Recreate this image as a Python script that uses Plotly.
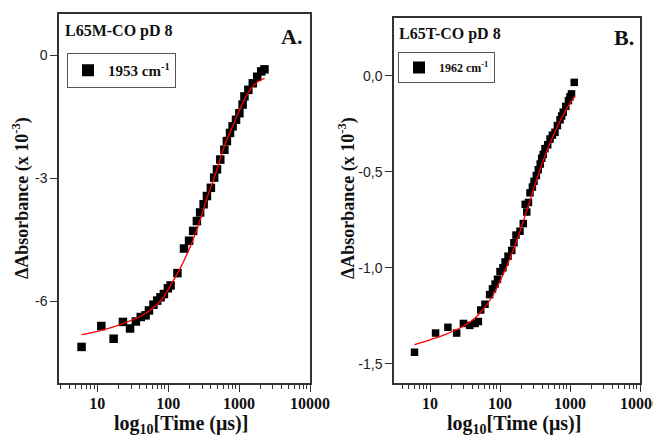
import plotly.graph_objects as go

# ---------------- Data: panel A (L65M-CO pD 8, 1953 cm-1) ----------------
a_time = [6, 11.4, 17, 23, 29, 35, 41, 48, 53.5, 62, 70, 78, 87, 99, 108,
          135, 167, 197, 225, 254, 282, 316, 352, 400, 445, 488, 543, 620,
          673, 745, 810, 905, 1010, 1120, 1190, 1350, 1560, 1800, 2050, 2280]
a_val = [-7.12, -6.61, -6.92, -6.51, -6.67, -6.50, -6.39, -6.35, -6.23, -6.09,
         -5.99, -5.91, -5.83, -5.69, -5.62,
         -5.32, -4.72, -4.53, -4.29, -4.05, -3.84, -3.64, -3.44, -3.24, -2.99,
         -2.79, -2.55, -2.31, -2.10, -1.90, -1.74, -1.58, -1.42, -1.21, -1.01,
         -0.85, -0.69, -0.53, -0.40, -0.35]
a_fit_time = [6, 10, 23, 45, 78, 108, 150, 210, 274, 360, 472, 620, 810,
              1070, 1400, 1840, 2280]
a_fit_val = [-6.82, -6.74, -6.55, -6.33, -6.00, -5.62, -5.18, -4.63, -4.09,
             -3.44, -2.87, -2.22, -1.74, -1.25, -0.87, -0.65, -0.57]

# ---------------- Data: panel B (L65T-CO pD 8, 1962 cm-1) ----------------
b_time = [6, 12, 18, 24, 30, 37, 44, 49, 53, 61, 71, 78, 85, 92, 100, 110,
          118, 130, 147, 158, 169, 193, 215, 229, 241, 255, 268, 290, 306,
          330, 352, 375, 394, 415, 439, 480, 518, 560, 610, 660, 720, 760,
          800, 870, 950, 1000, 1050, 1150]
b_val = [-1.44, -1.34, -1.31, -1.34, -1.29, -1.30, -1.29, -1.28, -1.22, -1.19,
         -1.14, -1.11, -1.085, -1.06, -1.02, -1.00, -0.97, -0.94, -0.91, -0.87,
         -0.83, -0.81, -0.77, -0.67, -0.71, -0.66, -0.61, -0.58, -0.55, -0.52,
         -0.49, -0.46, -0.43, -0.41, -0.38, -0.36, -0.33, -0.31, -0.295, -0.26,
         -0.23, -0.21, -0.19, -0.16, -0.13, -0.11, -0.095, -0.035]
b_fit_time = [6, 10, 16, 28, 40, 55, 76, 100, 132, 173, 268, 415, 650, 950, 1180]
b_fit_val = [-1.40, -1.375, -1.35, -1.31, -1.275, -1.225, -1.155, -1.07, -0.97,
             -0.86, -0.65, -0.44, -0.27, -0.156, -0.104]

# ---------------- Tick labels ----------------
x_tickvals = [10, 100, 1000, 10000]
x_ticktext = ["<b>10</b>", "<b>100</b>", "<b>1000</b>", "<b>10000</b>"]
a_ytickvals = [-6, -3, 0]
a_yticktext = ["-6", "-3", "0"]
b_ytickvals = [-1.5, -1.0, -0.5, 0.0]
b_yticktext = ["-1,5", "-1,0", "-0,5", "0,0"]

# page body has an 8px margin; size the figure so it fills the window
OFF = 8
W, H = 661 - OFF, 436 - OFF
SERIF = "Liberation Serif"
SANS = "Liberation Sans"


def px(x):
    return (x - OFF) / W


def py(y):
    return 1 - (y - OFF) / H


fig = go.Figure()

fig.add_trace(go.Scatter(
    x=a_time, y=a_val, mode="markers", xaxis="x", yaxis="y",
    marker=dict(symbol="square", size=8.5, color="black"),
    name="<b>1953 cm<sup>-1</sup></b>", legend="legend"))
fig.add_trace(go.Scatter(
    x=a_fit_time, y=a_fit_val, mode="lines", xaxis="x", yaxis="y",
    line=dict(color="red", width=1.3, shape="spline"), showlegend=False))

fig.add_trace(go.Scatter(
    x=b_time, y=b_val, mode="markers", xaxis="x2", yaxis="y2",
    marker=dict(symbol="square", size=7.5, color="black"),
    name="<b>1962 cm<sup>-1</sup></b>", legend="legend2"))
fig.add_trace(go.Scatter(
    x=b_fit_time, y=b_fit_val, mode="lines", xaxis="x2", yaxis="y2",
    line=dict(color="red", width=1.3, shape="spline"), showlegend=False))

xcommon = dict(
    type="log", tickvals=x_tickvals, ticktext=x_ticktext,
    ticks="outside", ticklen=7, tickwidth=1.2, tickcolor="#333",
    showline=True, linecolor="#333", linewidth=1.5, mirror=True,
    showgrid=False, zeroline=False, ticklabelstandoff=-2,
    tickfont=dict(family=SERIF, size=16, color="#111"),
    minor=dict(ticks="outside", ticklen=4, tickcolor="#333", dtick="D1",
               showgrid=False),
)
ycommon = dict(
    ticks="outside", ticklen=7, tickwidth=1.2, tickcolor="#333",
    showline=True, linecolor="#333", linewidth=1.5, mirror=True,
    showgrid=False, zeroline=False,
    tickfont=dict(family=SANS, size=14, color="#222"),
)

fig.update_layout(
    width=W, height=H,
    margin=dict(l=0, r=0, t=0, b=0, autoexpand=False),
    paper_bgcolor="white", plot_bgcolor="white",
    xaxis=dict(xcommon, domain=[px(59), px(310)], range=[0.46, 4.0],
               anchor="y"),
    yaxis=dict(ycommon, domain=[py(383), py(14)], range=[-8, 1],
               tickvals=a_ytickvals, ticktext=a_yticktext, anchor="x"),
    xaxis2=dict(xcommon, domain=[px(394), px(640)], range=[0.485, 4.0],
                anchor="y2"),
    yaxis2=dict(ycommon, domain=[py(383), py(18)], range=[-1.6, 0.3],
                tickvals=b_ytickvals, ticktext=b_yticktext, anchor="x2"),
    legend=dict(x=px(67), y=py(53), xanchor="left", yanchor="top",
                bgcolor="white", bordercolor="#555", borderwidth=1,
                font=dict(family=SERIF, size=15, color="#111"),
                itemsizing="constant"),
    legend2=dict(x=px(398), y=py(52), xanchor="left", yanchor="top",
                 bgcolor="white", bordercolor="#555", borderwidth=1,
                 font=dict(family=SERIF, size=12, color="#111"),
                 itemsizing="constant", tracegroupgap=0),
    showlegend=True,
)

ann = []
ann.append(dict(text="<b>L65M-CO pD 8</b>", x=px(63), y=py(31), xref="paper",
                yref="paper", xanchor="left", yanchor="middle", showarrow=False,
                font=dict(family=SERIF, size=16, color="#111")))
ann.append(dict(text="<b>A.</b>", x=px(304), y=py(36), xref="paper",
                yref="paper", xanchor="right", yanchor="middle", showarrow=False,
                font=dict(family=SERIF, size=22, color="#111")))
ann.append(dict(text="<b>L65T-CO pD 8</b>", x=px(397), y=py(34), xref="paper",
                yref="paper", xanchor="left", yanchor="middle", showarrow=False,
                font=dict(family=SERIF, size=16, color="#111")))
ann.append(dict(text="<b>B.</b>", x=px(636), y=py(38), xref="paper",
                yref="paper", xanchor="right", yanchor="middle", showarrow=False,
                font=dict(family=SERIF, size=22, color="#111")))
# axis titles
for xc in (181, 514):
    ann.append(dict(text="<b>log<sub>10</sub>[Time (μs)]</b>", x=px(xc), y=py(424),
                    xref="paper", yref="paper", xanchor="center",
                    yanchor="middle", showarrow=False,
                    font=dict(family=SERIF, size=20, color="#111")))
for xc in (21, 347):
    ann.append(dict(text="<b>ΔAbsorbance (x 10<sup>-3</sup>)</b>", x=px(xc),
                    y=py(198), xref="paper", yref="paper", xanchor="center",
                    yanchor="middle", showarrow=False, textangle=-90,
                    font=dict(family=SERIF, size=18, color="#111")))
fig.update_layout(annotations=ann)

fig.write_html("out.html")
